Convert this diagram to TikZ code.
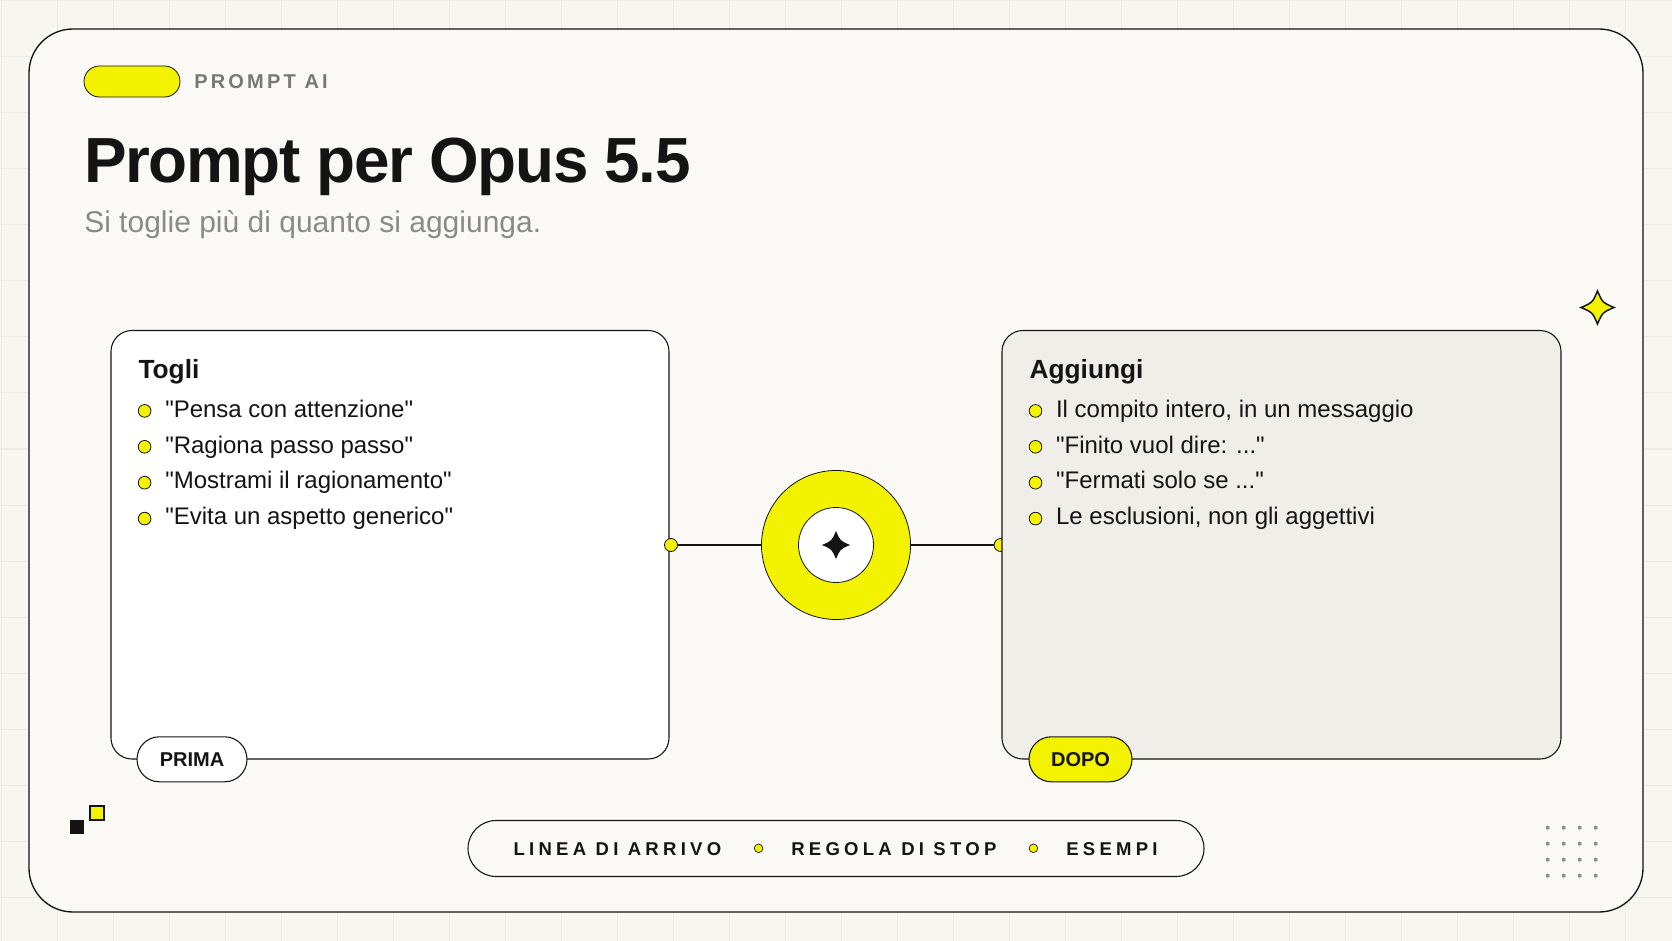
\documentclass[tikz,border=0pt]{standalone}
\usepackage{fontspec}
\setmainfont{Liberation Sans}[Ligatures=TeXOff]
\definecolor{bgc}{HTML}{F7F6F1}
\definecolor{gridc}{HTML}{ECEBE5}
\definecolor{cardc}{HTML}{FAF9F5}
\definecolor{boxr}{HTML}{EFEEE8}
\definecolor{yel}{RGB}{243,243,0}
\definecolor{ink}{HTML}{141414}
\definecolor{gtxt}{HTML}{777777}
\definecolor{stxt}{HTML}{8A8A8A}
\definecolor{dotc}{HTML}{8A8A8A}
\newcommand\sq{\char34\relax}
\tikzset{
  txt/.style={inner sep=0pt, anchor=base west, text=ink},
  bul/.style={circle, draw=ink, line width=0.6pt, fill=yel, minimum size=9.5pt, inner sep=0pt},
  panel/.style={rectangle, draw=ink, line width=0.8pt, rounded corners=15.75pt, minimum height=321.4pt, inner sep=0pt},
  tag/.style={rectangle, draw=ink, line width=0.8pt, rounded corners=16.8pt, minimum height=33.75pt, inner sep=0pt, font=\fontsize{15pt}{18pt}\selectfont\bfseries, text=ink},
  sparkle/.pic={\path[pic actions] (0,-1) .. controls (0.3,-0.3) .. (1,0) .. controls (0.3,0.3) .. (0,1) .. controls (-0.3,0.3) .. (-1,0) .. controls (-0.3,-0.3) .. (0,-1) -- cycle;},
  item/.style={txt, font=\fontsize{18pt}{21pt}\selectfont, text=ink},
  head/.style={txt, font=\fontsize{19.7pt}{23pt}\selectfont\bfseries, text=ink},
  spaced/.style={txt, font=\fontsize{13.9pt}{16pt}\selectfont\bfseries\addfontfeature{LetterSpace=23}, text=ink},
  sdot/.style={circle, draw=ink, line width=0.5pt, fill=yel, minimum size=6.45pt, inner sep=0pt}
}
\begin{document}
\begin{tikzpicture}[x=0.75pt,y=-0.75pt]
\useasboundingbox (0,0) rectangle (1672,941);
\fill[bgc] (0,0) rectangle (1672,941);
\foreach \i in {0,...,29} \draw[gridc, line width=0.75pt] (56*\i+1,0) -- (56*\i+1,941);
\foreach \j in {0,...,16} \draw[gridc, line width=0.75pt] (0,56*\j+1) -- (1672,56*\j+1);
% card
\node[rectangle, draw=ink, line width=1pt, fill=cardc, rounded corners=33pt, minimum width=1210.5pt, minimum height=662.25pt, inner sep=0pt] (card) at (836,470.5) {};
% header
\node[rectangle, draw=ink, line width=0.6pt, fill=yel, rounded corners=11.6pt, minimum width=72pt, minimum height=23.25pt, inner sep=0pt] (hpill) at (132,81.5) {};
\node[txt, text=gtxt, font=\fontsize{15pt}{18pt}\selectfont\bfseries\addfontfeature{LetterSpace=16}] (kicker) at (194,89) {PROMPT AI};
\node[txt, font=\fontsize{47.85pt}{55pt}\selectfont\bfseries\addfontfeature{LetterSpace=-2.2}] (title) at (84,182.7) {Prompt per Opus 5.5};
\node[txt, text=stxt, font=\fontsize{22.5pt}{26pt}\selectfont] (sub) at (84,232.3) {Si toglie più di quanto si aggiunga.};
% right dot under right panel
\node[bul, minimum size=9.75pt] (rdot) at (1000.6,545) {};
\node[panel, fill=boxr, minimum width=419.25pt] (rbox) at (1281.5,544.75) {};
\node[panel, fill=white, minimum width=418.5pt] (lbox) at (390,544.75) {};
\node[bul, minimum size=9.75pt] (ldot) at (671,545) {};
% hub
\node[circle, draw=ink, line width=0.6pt, fill=yel, minimum size=111.75pt, inner sep=0pt] (hub) at (836,545) {};
\node[circle, draw=ink, line width=0.6pt, fill=white, minimum size=56.25pt, inner sep=0pt] (hubin) at (836,545) {};
\pic[fill=ink, scale=14] at (hubin.center) {sparkle};
\draw[ink, line width=1.6pt] (ldot) -- (hub);
\draw[ink, line width=1.6pt] (hub) -- (rdot);
% left panel content
\node[head] (togli) at (138.3,378.3) {Togli};
\node[item] (l0) at (165,417.7) {\sq Pensa con attenzione\sq};
\node[item] (l1) at (165,453.2) {\sq Ragiona passo passo\sq};
\node[item] (l2) at (165,488.7) {\sq Mostrami il ragionamento\sq};
\node[item] (l3) at (165,524.2) {\sq Evita un aspetto generico\sq};
\foreach \k in {0,1,2,3} \node[bul] (lb\k) at (144.6,410.9+35.9*\k) {};
% right panel content
\node[head] (aggiungi) at (1029.4,378.3) {Aggiungi};
\node[item] (r0) at (1055.8,417.7) {Il compito intero, in un messaggio};
\node[item] (r1) at (1055.8,453.2) {\sq Finito vuol dire: ...\sq};
\node[item] (r2) at (1055.8,488.7) {\sq Fermati solo se ...\sq};
\node[item] (r3) at (1055.8,524.2) {Le esclusioni, non gli aggettivi};
\foreach \k in {0,1,2,3} \node[bul] (rb\k) at (1035.5,410.9+35.9*\k) {};
% tags
\node[tag, fill=white, minimum width=82.5pt] (prima) at (192,759.3) {PRIMA};
\node[tag, fill=yel, minimum width=77.25pt] (dopo) at (1080.5,759.3) {DOPO};
% bottom bar
\node[rectangle, draw=ink, line width=0.8pt, fill=cardc, rounded corners=21pt, minimum width=552pt, minimum height=42pt, inner sep=0pt] (bar) at (836,848.5) {};
\node[spaced] (s1) at (513.3,855) {LINEA DI ARRIVO};
\node[sdot] (d1) at (758.6,848.3) {};
\node[spaced] (s2) at (791,855) {REGOLA DI STOP};
\node[sdot] (d2) at (1033.4,848.3) {};
\node[spaced] (s3) at (1066,855) {ESEMPI};
% decorations
\pic[fill=yel, draw=ink, line width=1.1pt, scale=16.5] at (1597.5,307.5) {sparkle};
\fill[ink] (70,820) rectangle (84,834);
\draw[fill=yel, draw=ink, line width=0.8pt] (90,806) rectangle (104,820);
\foreach \i in {0,...,3} \foreach \j in {0,...,3} \fill[dotc] (1547.7+16*\i,827.7+16*\j) circle (1.5pt);
\end{tikzpicture}
\end{document}
